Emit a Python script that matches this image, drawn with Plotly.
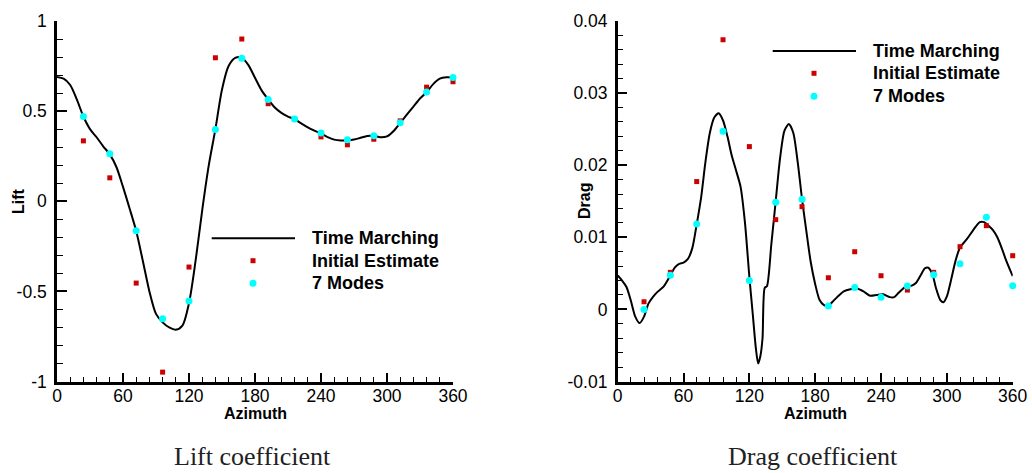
import plotly.graph_objects as go

# ---------------- data ----------------
sample_az = [24, 48, 72, 96, 120, 144, 168, 192, 216, 240, 264, 288, 312, 336, 360]

lift_initial = [0.335, 0.13, -0.454, -0.948, -0.365, 0.796, 0.90, 0.541, 0.455,
                0.357, 0.313, 0.344, 0.446, 0.633, 0.663]
lift_modes = [0.47, 0.263, -0.163, -0.652, -0.554, 0.398, 0.793, 0.565, 0.456,
              0.378, 0.341, 0.363, 0.435, 0.606, 0.687]

drag_initial = [0.00106, 0.00514, 0.01773, 0.0374, 0.02258, 0.01245, 0.01425, 0.00439,
                0.0080, 0.00467, 0.00268, 0.00514, 0.0087, 0.01161, 0.00745]
drag_modes = [0.0, 0.00472, 0.01185, 0.02472, 0.00402, 0.01486, 0.01528, 0.00046,
              0.00305, 0.00167, 0.00324, 0.0048, 0.00634, 0.01278, 0.00328]

lift_curve_az = [0, 6, 12, 18, 24, 30, 36, 42, 48, 54, 60, 66, 72, 78, 84, 90, 96, 102,
                 108, 114, 120, 126, 132, 138, 144, 150, 156, 162, 168, 174, 180, 186,
                 192, 198, 204, 210, 216, 222, 228, 234, 240, 246, 252, 258, 264, 270,
                 276, 282, 288, 294, 300, 306, 312, 318, 324, 330, 336, 342, 348, 354, 360]
lift_curve = [0.69, 0.68, 0.645, 0.565, 0.47, 0.40, 0.355, 0.305, 0.26, 0.19, 0.08, -0.04,
              -0.165, -0.33, -0.50, -0.625, -0.672, -0.70, -0.713, -0.69, -0.565, -0.33,
              -0.05, 0.20, 0.40, 0.62, 0.75, 0.795, 0.797, 0.755, 0.685, 0.615,
              0.565, 0.52, 0.49, 0.47, 0.455, 0.432, 0.41, 0.392, 0.376, 0.356, 0.342,
              0.337, 0.338, 0.342, 0.352, 0.362, 0.362, 0.355, 0.36, 0.39, 0.435, 0.48,
              0.525, 0.57, 0.606, 0.65, 0.68, 0.688, 0.687]

drag_curve_az = [0, 4, 8, 12, 16, 20, 24, 28, 32, 36, 42, 48, 52, 56, 60, 64, 68, 72, 76,
                 80, 84, 88, 92, 96, 100, 104, 108, 112, 116, 120, 123, 126, 128, 130, 132,
                 134, 136, 140, 144, 148, 152, 156, 160, 164, 168, 172, 176, 180, 184, 188,
                 192, 196, 200, 206, 212, 218, 224, 230, 236, 242, 248, 252, 256, 262, 268,
                 272, 276, 280, 283, 287, 290, 294, 297, 300, 304, 308, 312, 318, 324, 330,
                 334, 338, 342, 346, 350, 354, 360]
drag_curve = [0.0047, 0.0040, 0.0031, 0.0012, -0.0010, -0.0019, -0.0010, 0.0008, 0.0017,
              0.0024, 0.0032, 0.0047, 0.0058, 0.0063, 0.0065, 0.0070, 0.0085, 0.0118,
              0.0155, 0.0205, 0.0245, 0.0266, 0.0272, 0.0262, 0.0240, 0.0213, 0.0192,
              0.0170, 0.0120, 0.0045, -0.0005, -0.0055, -0.0075, -0.0065, -0.0040, 0.0030,
              0.0032, 0.0090, 0.0150, 0.0210, 0.0248, 0.0257, 0.0245, 0.0205, 0.0153,
              0.0108, 0.0065, 0.0035, 0.0013, 0.0006, 0.0005, 0.0011, 0.0017, 0.0025,
              0.0028, 0.0029, 0.0025, 0.0019, 0.0020, 0.0021, 0.0017, 0.0017, 0.0023,
              0.0031, 0.0033, 0.0037, 0.0047, 0.0057, 0.0058, 0.0048, 0.0030, 0.0013,
              0.0010, 0.0018, 0.0042, 0.0068, 0.0086, 0.0097, 0.0110, 0.0121, 0.0121,
              0.0116, 0.0110, 0.0100, 0.0085, 0.0068, 0.0046]

x_ticks = [0, 60, 120, 180, 240, 300, 360]
x_ticktext = ["0", "60", "120", "180", "240", "300", "360"]
lift_ticks = [-1, -0.5, 0, 0.5, 1]
lift_ticktext = ["-1", "-0.5", "0", "0.5", "1"]
drag_ticks = [-0.01, 0, 0.01, 0.02, 0.03, 0.04]
drag_ticktext = ["-0.01", "0", "0.01", "0.02", "0.03", "0.04"]

legend_names = ["Time Marching", "Initial Estimate", "7 Modes"]
captions = ["Lift coefficient", "Drag coefficient"]
y_titles = ["Lift", "Drag"]
x_title = "Azimuth"

RED = "#cc0000"
CYAN = "#00ffff"
W, H = 1032, 473

fig = go.Figure()

# ---- left: lift ----
fig.add_trace(go.Scatter(x=lift_curve_az, y=lift_curve, mode="lines",
                         line=dict(color="black", width=2, shape="spline", smoothing=0.8),
                         xaxis="x", yaxis="y", showlegend=False, name=legend_names[0]))
fig.add_trace(go.Scatter(x=sample_az, y=lift_initial, mode="markers",
                         marker=dict(symbol="square", size=5, color=RED),
                         xaxis="x", yaxis="y", showlegend=False, cliponaxis=False,
                         name=legend_names[1]))
fig.add_trace(go.Scatter(x=sample_az, y=lift_modes, mode="markers",
                         marker=dict(symbol="circle", size=7, color=CYAN),
                         xaxis="x", yaxis="y", showlegend=False, cliponaxis=False,
                         name=legend_names[2]))

# ---- right: drag ----
fig.add_trace(go.Scatter(x=drag_curve_az, y=drag_curve, mode="lines",
                         line=dict(color="black", width=2, shape="spline", smoothing=0.7),
                         xaxis="x2", yaxis="y2", showlegend=False, name=legend_names[0]))
fig.add_trace(go.Scatter(x=sample_az, y=drag_initial, mode="markers",
                         marker=dict(symbol="square", size=5, color=RED),
                         xaxis="x2", yaxis="y2", showlegend=False, cliponaxis=False,
                         name=legend_names[1]))
fig.add_trace(go.Scatter(x=sample_az, y=drag_modes, mode="markers",
                         marker=dict(symbol="circle", size=7, color=CYAN),
                         xaxis="x2", yaxis="y2", showlegend=False, cliponaxis=False,
                         name=legend_names[2]))

tick_font = dict(family="Liberation Sans, Arial, sans-serif", size=17.5, color="black")


def xaxis_cfg(domain, anchor):
    return dict(domain=domain, anchor=anchor, range=[0, 360], tickmode="array",
                tickvals=x_ticks, ticktext=x_ticktext, ticks="inside", ticklen=9,
                tickwidth=1.5, tickcolor="black", showline=True, linecolor="black",
                linewidth=2.5, showgrid=False, zeroline=False, tickfont=tick_font,
                automargin=False, ticklabelstandoff=-3,
                minor=dict(tickmode="linear", tick0=0, dtick=12, ticks="inside",
                           ticklen=5, tickwidth=1.2, tickcolor="black", showgrid=False))


def yaxis_cfg(domain, anchor, rng, vals, text, mdt):
    return dict(domain=domain, anchor=anchor, range=rng, tickmode="array",
                tickvals=vals, ticktext=text, ticks="inside", ticklen=10,
                tickwidth=1.5, tickcolor="black", showline=True, linecolor="black",
                linewidth=2.5, showgrid=False, zeroline=False, tickfont=tick_font,
                automargin=False, ticklabelstandoff=4,
                minor=dict(tickmode="linear", tick0=0, dtick=mdt, ticks="inside",
                           ticklen=6, tickwidth=1.2, tickcolor="black", showgrid=False))


ydom = [1 - 381.5 / H, 1 - 21 / H]
x1dom = [57 / W, 453 / W]
x2dom = [617.7 / W, 1012.7 / W]

fig.update_layout(
    width=W, height=H,
    margin=dict(l=0, r=0, t=0, b=0),
    paper_bgcolor="white", plot_bgcolor="white",
    showlegend=False,
    xaxis=xaxis_cfg(x1dom, "y"),
    yaxis=yaxis_cfg(ydom, "x", [-1, 1], lift_ticks, lift_ticktext, 0.1),
    xaxis2=xaxis_cfg(x2dom, "y2"),
    yaxis2=yaxis_cfg(ydom, "x2", [-0.01, 0.04], drag_ticks, drag_ticktext, 0.002),
)

annotations = []
shapes = []
bold_font = dict(family="Liberation Sans, Arial, sans-serif", size=16, color="black")

# axis titles
for i, (xd, yt, ytx) in enumerate([(x1dom, y_titles[0], 19), (x2dom, y_titles[1], 585)]):
    annotations.append(dict(text="<b>" + x_title + "</b>", x=(xd[0] + xd[1]) / 2,
                            y=1 - 413 / H, xref="paper", yref="paper", showarrow=False,
                            xanchor="center", yanchor="middle", font=bold_font))
    annotations.append(dict(text="<b>" + yt + "</b>", x=ytx / W, y=1 - 201 / H,
                            xref="paper", yref="paper", showarrow=False, textangle=-90,
                            xanchor="center", yanchor="middle", font=bold_font))

# captions
for cap, cx in zip(captions, [252, 813]):
    annotations.append(dict(text=cap, x=cx / W, y=1 - 456 / H, xref="paper", yref="paper",
                            showarrow=False, xanchor="center", yanchor="middle",
                            font=dict(family="Liberation Serif, Times New Roman, serif",
                                      size=26, color="#222222")))

# manual legends (Tecplot style)
legend_font = dict(family="Liberation Sans, Arial, sans-serif", size=18, color="black")
for (lx0, lx1, mx, tx, rows) in [(211.7, 295, 253, 310, [238.3, 260.7, 283.3]),
                                 (772.7, 856, 814, 871, [51, 73.3, 96.3])]:
    shapes.append(dict(type="line", xref="paper", yref="paper",
                       x0=lx0 / W, x1=lx1 / W, y0=1 - rows[0] / H, y1=1 - rows[0] / H,
                       line=dict(color="black", width=2)))
    shapes.append(dict(type="rect", xref="paper", yref="paper", xsizemode="pixel",
                       ysizemode="pixel", xanchor=mx / W, yanchor=1 - rows[1] / H,
                       x0=-2.5, x1=2.5, y0=-2.5, y1=2.5, fillcolor=RED,
                       line=dict(width=0)))
    shapes.append(dict(type="circle", xref="paper", yref="paper", xsizemode="pixel",
                       ysizemode="pixel", xanchor=mx / W, yanchor=1 - rows[2] / H,
                       x0=-3.5, x1=3.5, y0=-3.5, y1=3.5, fillcolor=CYAN,
                       line=dict(width=0)))
    for name, ry in zip(legend_names, rows):
        annotations.append(dict(text="<b>" + name + "</b>", x=tx / W, y=1 - ry / H,
                                xref="paper", yref="paper", showarrow=False,
                                xanchor="left", yanchor="middle", font=legend_font))

fig.update_layout(annotations=annotations, shapes=shapes)

fig.write_html("out.html")
